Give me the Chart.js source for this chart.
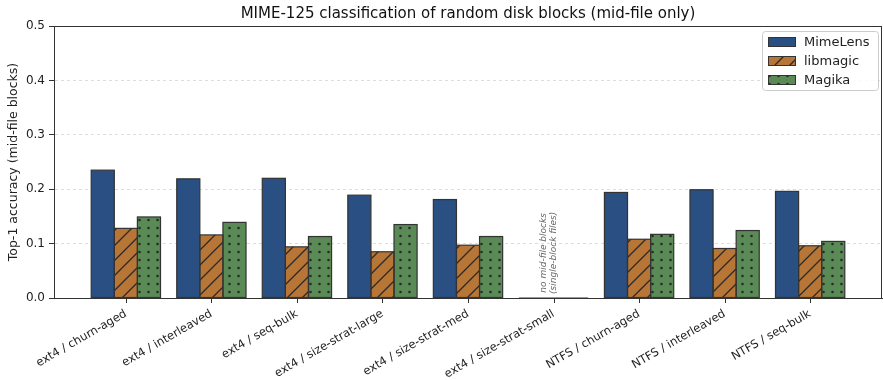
<!DOCTYPE html>
<html>
<head>
<meta charset="utf-8">
<script src="https://cdn.jsdelivr.net/npm/chart.js@4.4.1/dist/chart.umd.min.js"></script>
<style>
  html, body { margin: 0; padding: 0; background: #fff; }
  #wrap { width: 884px; height: 380px; }
</style>
</head>
<body>
<div id="wrap"><canvas id="accChart" width="884" height="380"></canvas></div>
<script>
// ---- data ----
const categories = [
  'ext4 / churn-aged', 'ext4 / interleaved', 'ext4 / seq-bulk',
  'ext4 / size-strat-large', 'ext4 / size-strat-med', 'ext4 / size-strat-small',
  'NTFS / churn-aged', 'NTFS / interleaved', 'NTFS / seq-bulk'
];
const mimeLens = [0.235, 0.219, 0.220, 0.189, 0.181, 0.0, 0.194, 0.199, 0.196];
const libmagic = [0.128, 0.116, 0.094, 0.085, 0.097, 0.0, 0.108, 0.091, 0.096];
const magika   = [0.149, 0.139, 0.113, 0.135, 0.113, 0.0, 0.117, 0.124, 0.104];
const yTicks = [0, 0.1, 0.2, 0.3, 0.4, 0.5];

const FONT = "'DejaVu Sans', sans-serif";
const EDGE = '#333333';

// hatch patterns
function hatchPattern(bg) {
  const c = document.createElement('canvas');
  c.width = 15; c.height = 15;
  const g = c.getContext('2d');
  g.fillStyle = bg; g.fillRect(0, 0, 15, 15);
  g.strokeStyle = '#2a2a2a'; g.lineWidth = 1.3;
  g.beginPath();
  g.moveTo(0, 15); g.lineTo(15, 0);
  g.moveTo(-2, 2); g.lineTo(2, -2);
  g.moveTo(13, 17); g.lineTo(17, 13);
  g.stroke();
  return g.createPattern(c, 'repeat');
}
function dotPattern(bg) {
  const c = document.createElement('canvas');
  c.width = 9; c.height = 8;
  const g = c.getContext('2d');
  g.fillStyle = bg; g.fillRect(0, 0, 9, 8);
  g.fillStyle = '#2a2a2a';
  g.beginPath(); g.arc(4.5, 4, 1.3, 0, Math.PI * 2); g.fill();
  return g.createPattern(c, 'repeat');
}

const colors = { mime: '#2a4f82', lib: '#b87636', mag: '#5a8a55' };
const fills = { mime: colors.mime, lib: hatchPattern(colors.lib), mag: dotPattern(colors.mag) };

const toPts = arr => arr.map((v, i) => ({ x: i, y: v }));

// bar edges, frame, ticks, title, legend and note
const extras = {
  id: 'extras',
  afterDatasetsDraw(chart) {
    const ctx = chart.ctx;
    ctx.save();
    ctx.strokeStyle = EDGE; ctx.lineWidth = 1.2;
    chart.data.datasets.forEach((ds, di) => {
      chart.getDatasetMeta(di).data.forEach(bar => {
        const { x, y, base, width } = bar.getProps(['x', 'y', 'base', 'width'], true);
        ctx.strokeRect(x - width / 2, y, width, base - y);
      });
    });
    ctx.restore();
  },
  afterDraw(chart) {
    const { ctx, chartArea: a, scales } = chart;
    ctx.save();
    // box
    ctx.strokeStyle = '#333'; ctx.lineWidth = 1;
    ctx.strokeRect(a.left + 0.5, a.top + 0.5, a.right - a.left - 1, a.bottom - a.top);
    // x tick marks
    ctx.beginPath();
    categories.forEach((_, i) => {
      const px = Math.round(scales.x.getPixelForValue(i)) + 0.5;
      ctx.moveTo(px, a.bottom); ctx.lineTo(px, a.bottom + 5);
    });
    ctx.stroke();
    // title
    ctx.fillStyle = '#111'; ctx.font = '15px ' + FONT;
    ctx.textAlign = 'center'; ctx.textBaseline = 'middle';
    ctx.fillText('MIME-125 classification of random disk blocks (mid-file only)', (a.left + a.right) / 2, a.top - 12);
    // note on empty group
    const nx = scales.x.getPixelForValue(5) - 5;
    const ny = scales.y.getPixelForValue(0.083);
    ctx.translate(nx, ny); ctx.rotate(-Math.PI / 2);
    ctx.fillStyle = '#666'; ctx.font = 'italic 9px ' + FONT;
    ctx.textAlign = 'center'; ctx.textBaseline = 'middle';
    ctx.fillText('no mid-file blocks', 0, -5);
    ctx.fillText('(single-block files)', 0, 5);
    ctx.setTransform(1, 0, 0, 1, 0, 0);
    // legend
    const lx = a.right - 120, ly = a.top + 5, lw = 116, lh = 59;
    ctx.fillStyle = 'rgba(255,255,255,0.85)';
    ctx.strokeStyle = '#ccc';
    ctx.beginPath(); ctx.roundRect(lx + 0.5, ly + 0.5, lw, lh, 3); ctx.fill(); ctx.stroke();
    chart.data.datasets.forEach((ds, i) => {
      const ry = ly + 11 + i * 19;
      ctx.fillStyle = ds.backgroundColor;
      ctx.fillRect(lx + 6, ry - 5, 28, 10);
      ctx.strokeStyle = EDGE; ctx.lineWidth = 1;
      ctx.strokeRect(lx + 6.5, ry - 4.5, 27, 9);
      ctx.fillStyle = '#222'; ctx.font = '13px ' + FONT;
      ctx.textAlign = 'left'; ctx.textBaseline = 'middle';
      ctx.fillText(ds.label, lx + 42, ry + 1);
    });
    ctx.restore();
  }
};

const ctx = document.getElementById('accChart');
const accChart = new Chart(ctx, {
  type: 'bar',
  data: {
    datasets: [
      { label: 'MimeLens', data: toPts(mimeLens), backgroundColor: fills.mime },
      { label: 'libmagic', data: toPts(libmagic), backgroundColor: fills.lib },
      { label: 'Magika',   data: toPts(magika),   backgroundColor: fills.mag }
    ]
  },
  options: {
    responsive: false,
    animation: false,
    layout: { padding: { top: 26, right: 2, left: 0, bottom: 0 } },
    datasets: {
      bar: { borderWidth: 0, categoryPercentage: 0.81, barPercentage: 1.0 }
    },
    plugins: { legend: { display: false }, title: { display: false }, tooltip: { enabled: false } },
    scales: {
      x: {
        type: 'linear',
        offset: false,
        min: -0.84, max: 8.84,
        afterBuildTicks: s => { s.ticks = categories.map((_, i) => ({ value: i })); },
        afterFit: s => { s.height = 82; },
        grid: { display: false },
        border: { color: '#333' },
        ticks: {
          autoSkip: false, minRotation: 30, maxRotation: 30, padding: 1,
          color: '#222', font: { family: FONT, size: 11.5 },
          callback: v => categories[v]
        }
      },
      y: {
        min: 0, max: 0.5,
        afterBuildTicks: s => { s.ticks = yTicks.map(v => ({ value: v })); },
        afterFit: s => { s.width = 54; },
        grid: { color: '#dddddd', tickLength: 5, tickColor: '#333', tickBorderDash: [] },
        border: { color: '#333', dash: [3, 3] },
        title: { display: true, text: 'Top-1 accuracy (mid-file blocks)', color: '#222', font: { family: FONT, size: 12.5 }, padding: { top: 6, bottom: 0 } },
        ticks: { color: '#222', padding: 4, font: { family: FONT, size: 12 }, callback: v => v.toFixed(1) }
      }
    }
  },
  plugins: [extras]
});
</script>
</body>
</html>
